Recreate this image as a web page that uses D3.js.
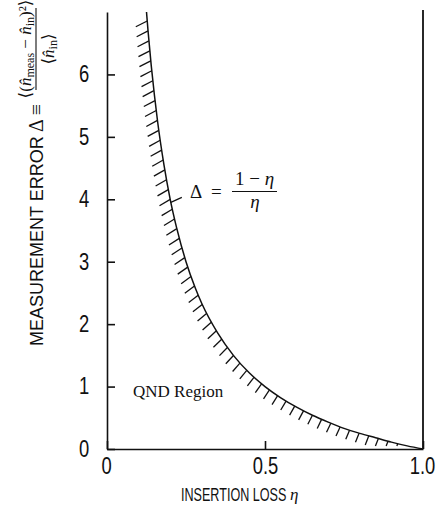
<!DOCTYPE html>
<html>
<head>
<meta charset="utf-8">
<script src="https://cdn.jsdelivr.net/npm/d3@7"></script>
<style>
  body { margin: 0; background: #fff; }
  svg text { fill: #111; }
  .tick text { font-family: "Liberation Sans", Arial, sans-serif; font-size: 23px; }
  .sans { font-family: "Liberation Sans", Arial, sans-serif; }
  .serif { font-family: "Liberation Serif", "DejaVu Serif", serif; }
</style>
</head>
<body>
<svg id="chart" width="436" height="505"></svg>
<script>
const etaValues   = [0.125, 0.13, 0.14, 0.15, 0.16, 0.18, 0.20, 0.22, 0.25, 0.28, 0.30, 0.35, 0.40, 0.45, 0.50, 0.55, 0.60, 0.65, 0.70, 0.75, 0.80, 0.85, 0.90, 0.95, 1.00];
const deltaValues = [7.00, 6.69, 6.14, 5.67, 5.25, 4.56, 4.00, 3.55, 3.00, 2.57, 2.33, 1.86, 1.50, 1.22, 1.00, 0.82, 0.67, 0.54, 0.43, 0.33, 0.25, 0.18, 0.11, 0.05, 0.00];
const xTickValues = [0, 0.5, 1.0];
const yTickValues = [0, 1, 2, 3, 4, 5, 6];
const labelDelta = 3.95;   // where the formula's leader line touches the curve

const svg = d3.select('#chart');

const x = d3.scaleLinear().domain([0, 1]).range([107, 423]);
const y = d3.scaleLinear().domain([0, 7]).range([449, 12]);

const points = etaValues.map((e, i) => ({ eta: e, delta: deltaValues[i] }));

// squeeze a text horizontally, the reference uses a condensed face
function condense(sel, k) {
  sel.each(function() {
    const t = d3.select(this);
    const x0 = +t.attr('x') || 0;
    t.attr('x', x0 / k).attr('transform', `scale(${k},1)`);
  });
}

// axes
const yAxisG = svg.append('g')
    .attr('transform', `translate(${x(0)},0)`)
    .call(d3.axisLeft(y).tickValues(yTickValues).tickSizeInner(-8).tickSizeOuter(0).tickFormat(d => d));
yAxisG.selectAll('.tick text').attr('x', -23).attr('text-anchor', 'middle');

const xAxisG = svg.append('g')
    .attr('transform', `translate(0,${y(0)})`)
    .call(d3.axisBottom(x).tickValues(xTickValues).tickSizeInner(-8).tickSizeOuter(0).tickPadding(9)
      .tickFormat(d => d === 0 ? '0' : d3.format('.1f')(d)));
xAxisG.selectAll('.tick text').attr('x', d => (d === 0 || d === 1) ? -1 : 0);

condense(svg.selectAll('.tick text'), 0.8);
svg.selectAll('.domain, .tick line').attr('stroke', '#111').attr('stroke-width', 1.6);

// right border
svg.append('line')
    .attr('x1', x(1)).attr('x2', x(1))
    .attr('y1', 10).attr('y2', y(0))
    .attr('stroke', '#111').attr('stroke-width', 1.8);

// the curve
const line = d3.line()
    .x(d => x(d.eta))
    .y(d => y(d.delta))
    .curve(d3.curveMonotoneX);

const curvePath = svg.append('path')
    .datum(points)
    .attr('d', line)
    .attr('fill', 'none')
    .attr('stroke', '#111')
    .attr('stroke-width', 1.5);

// hatching on the QND side
const node = curvePath.node();
const total = node.getTotalLength();
const hatches = [];
for (let s = 9; s < total - 4; s += 10) {
  const p = node.getPointAtLength(s);
  const q = node.getPointAtLength(Math.min(total, s + 1));
  const t = Math.atan2(q.y - p.y, q.x - p.x) * 180 / Math.PI;
  const a = (0.6 * t + 102) * Math.PI / 180;
  let len = 9 + 4 * t / 90;
  let dx = Math.cos(a) * len, dy = Math.sin(a) * len;
  const room = y(0) - 3 - p.y;
  if (room < 2) continue;
  if (dy > room) { const k = room / dy; dx *= k; dy *= k; }
  hatches.push({ x1: p.x, y1: p.y, x2: p.x + dx, y2: p.y + dy });
}
svg.append('g').selectAll('line')
  .data(hatches)
  .join('line')
    .attr('x1', d => d.x1).attr('y1', d => d.y1)
    .attr('x2', d => d.x2).attr('y2', d => d.y2)
    .attr('stroke', '#111')
    .attr('stroke-width', 1.3);

// formula label with leader
const lx = x(1 / (1 + labelDelta)), ly = y(labelDelta);
svg.append('line')
    .attr('x1', lx).attr('y1', ly)
    .attr('x2', lx + 11).attr('y2', ly - 5)
    .attr('stroke', '#111').attr('stroke-width', 1.2);

const lab = svg.append('g').attr('class', 'serif').style('font-size', '19px');
lab.append('text').attr('x', 190).attr('y', 198).text('Δ');
lab.append('text').attr('x', 211).attr('y', 198).text('=');
lab.append('line').attr('x1', 232).attr('x2', 277).attr('y1', 191.5).attr('y2', 191.5)
    .attr('stroke', '#111').attr('stroke-width', 1.1);
const num = lab.append('text').attr('x', 254.5).attr('y', 185).attr('text-anchor', 'middle');
num.append('tspan').text('1 − ');
num.append('tspan').attr('font-style', 'italic').text('η');
lab.append('text').attr('x', 255).attr('y', 208).attr('text-anchor', 'middle')
    .attr('font-style', 'italic').text('η');

svg.append('text')
    .attr('class', 'serif')
    .attr('x', 133).attr('y', 397)
    .style('font-size', '17px')
    .text('QND Region');

// x title: condensed caps plus a serif eta
const xt = svg.append('text')
    .attr('class', 'sans')
    .attr('x', 181).attr('y', 501)
    .style('font-size', '18px')
    .text('INSERTION LOSS');
condense(xt, 0.7);
svg.append('text')
    .attr('class', 'serif')
    .attr('x', 290).attr('y', 500)
    .attr('font-style', 'italic')
    .style('font-size', '17px')
    .text('η');

// y title (rotated)
const yt = svg.append('g').attr('transform', 'rotate(-90)');
yt.append('text')
    .attr('class', 'sans')
    .attr('x', -346).attr('y', 43)
    .style('font-size', '18px')
    .text('MEASUREMENT ERROR');
yt.append('text')
    .attr('class', 'serif')
    .attr('x', -132).attr('y', 43)
    .style('font-size', '20px')
    .text('Δ ≡');
yt.append('line')
    .attr('x1', -90).attr('x2', -8)
    .attr('y1', 36).attr('y2', 36)
    .attr('stroke', '#111').attr('stroke-width', 1.1);

const yNum = yt.append('text')
    .attr('class', 'serif')
    .attr('x', -49).attr('y', 31)
    .attr('text-anchor', 'middle')
    .style('font-size', '17px');
yNum.append('tspan').text('⟨(');
yNum.append('tspan').attr('font-style', 'italic').text('n\u0302');
yNum.append('tspan').attr('dy', 3).style('font-size', '12px').text('meas');
yNum.append('tspan').attr('dy', -3).text(' − ');
yNum.append('tspan').attr('font-style', 'italic').text('n\u0302');
yNum.append('tspan').attr('dy', 3).style('font-size', '12px').text('in');
yNum.append('tspan').attr('dy', -3).text(')²⟩');

const yDen = yt.append('text')
    .attr('class', 'serif')
    .attr('x', -49).attr('y', 54)
    .attr('text-anchor', 'middle')
    .style('font-size', '17px');
yDen.append('tspan').text('⟨');
yDen.append('tspan').attr('font-style', 'italic').text('n\u0302');
yDen.append('tspan').attr('dy', 3).style('font-size', '12px').text('in');
yDen.append('tspan').attr('dy', -3).text('⟩');
</script>
</body>
</html>
